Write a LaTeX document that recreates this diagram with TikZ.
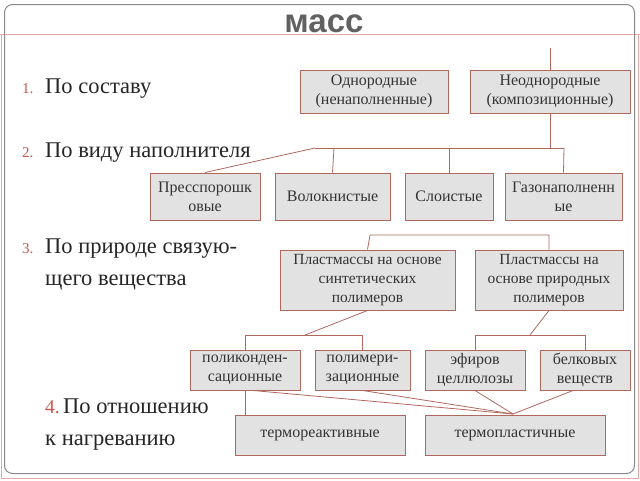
\documentclass[tikz,border=0pt]{standalone}
\usepackage{fontspec}
\setmainfont{Liberation Serif}
\newfontfamily\titlefont{Liberation Sans}
\usetikzlibrary{calc}
\definecolor{edge}{HTML}{B0685C}
\definecolor{boxfill}{HTML}{E2E2E2}
\definecolor{boxtext}{HTML}{333333}
\definecolor{numred}{HTML}{C8574C}
\definecolor{frame}{HTML}{8A8A8A}
\definecolor{pinkline}{HTML}{E3A9A9}
\definecolor{maintext}{HTML}{262626}
\begin{document}
\begin{tikzpicture}[x=1pt,y=-1pt,
  box/.style={draw=edge, line width=1pt, fill=boxfill, text=boxtext, align=center,
    inner sep=1pt, font=\fontsize{16}{19}\selectfont},
  link/.style={draw=edge, line width=0.8pt},
  lefttxt/.style={anchor=base west, inner sep=0pt, text=maintext, font=\fontsize{22.5}{27}\selectfont},
  num/.style={anchor=base west, inner sep=0pt, text=numred, font=\fontsize{15}{18}\selectfont}]
\useasboundingbox (0,0) rectangle (640,480);
\fill[white] (0,0) rectangle (640,480);
% frame
\draw[pinkline, line width=0.8pt] (0,34) -- (640,34);
\draw[pinkline, line width=0.8pt] (1.5,34) -- (1.5,478.5) -- (638.5,478.5) -- (638.5,34);
\draw[frame, line width=1pt, rounded corners=8pt] (4.5,4.5) rectangle (634.5,473.5);
% title
\node[anchor=base, inner sep=0pt, text=black!62, font=\titlefont\bfseries\fontsize{33}{36}\selectfont] (title) at (324,32) {масс};
% left list
\node[num] (n1) at (22,93) {1.};
\node[lefttxt] (t1) at (45,93) {По составу};
\node[num] (n2) at (22,157) {2.};
\node[lefttxt] (t2) at (45,157) {По виду наполнителя};
\node[num] (n3) at (22,253) {3.};
\node[lefttxt] (t3) at (45,253) {По природе связую-};
\node[lefttxt] (t3b) at (45,285) {щего вещества};
\node[num, font=\fontsize{19.5}{24}\selectfont] (n4) at (45,413) {4.};
\node[lefttxt] (t4) at (63,413) {По отношению};
\node[lefttxt] (t4b) at (45,445) {к нагреванию};
% row 1
\node[box, minimum width=148, minimum height=43] (odn) at (374,91.5) {Однородные\\(ненаполненные)};
\node[box, minimum width=160, minimum height=43] (neodn) at (550,91.5) {Неоднородные\\(композиционные)};
% row 2
\node[box, minimum width=110, minimum height=47] (press) at (205,196.5) {Пресспорошк\\овые};
\node[box, minimum width=115, minimum height=47] (volok) at (332.5,196.5) {Волокнистые};
\node[box, minimum width=88, minimum height=47] (slo) at (449,196.5) {Слоистые};
\node[box, minimum width=117, minimum height=47] (gaz) at (563.5,196.5) {Газонаполненн\\ые};
% row 3
\node[box, minimum width=175, minimum height=60, font=\fontsize{15.5}{19}\selectfont] (sint) at (367.5,280) {Пластмассы на основе\\синтетических\\полимеров};
\node[box, minimum width=148, minimum height=60, font=\fontsize{15.5}{19}\selectfont] (prir) at (549,280) {Пластмассы на\\основе природных\\полимеров};
% row 4
\node[box, minimum width=110, minimum height=40] (polik) at (245,370) {поликонден-\\сационные};
\node[box, minimum width=95, minimum height=40] (polim) at (362.5,370) {полимери-\\зационные};
\node[box, minimum width=100, minimum height=40] (efir) at (475,370) {эфиров\\целлюлозы};
\node[box, minimum width=90, minimum height=40] (belk) at (585,370) {белковых\\веществ};
% row 5
\node[box, minimum width=170, minimum height=40] (tr) at (320,435) {термореактивные};
\node[box, minimum width=180, minimum height=40] (tp) at (515,435) {термопластичные};
% connectors: top
\coordinate (top) at (550,48);
\draw[link] (top) -- (neodn.north);
\coordinate (j1) at (315,148);
\coordinate (j2) at (564,148);
\draw[link] (neodn.south) -- (neodn.south |- j1);
\draw[link] (j1) -- (j2);
\draw[link] (j1) -- (press.north);
\draw[link] (334,148) -- (volok.north);
\draw[link] (slo.north |- j1) -- (slo.north);
\draw[link] (j2) -- (gaz.north);
% row 3 bracket
\coordinate (k1) at (370,235);
\coordinate (k2) at (549,235);
\draw[link] (sint.north) -- (k1) -- (k2) -- (prir.north);
% row 4 brackets
\coordinate (m1) at (305,335);
\coordinate (p1) at (530,335);
\draw[link] (sint.south) -- (m1);
\draw[link] (polik.north) -- (polik.north |- m1) -- (polim.north |- m1) -- (polim.north);
\draw[link] (prir.south) -- (p1);
\draw[link] (efir.north) -- (efir.north |- p1) -- (belk.north |- p1) -- (belk.north);
% row 5 connectors
\coordinate (conv) at (513,414);
\draw[link] (polik.south) -- (polik.south |- tr.north);
\draw[link] ($(polik.south)+(8,0)$) -- (conv);
\draw[link] (polim.south) -- (conv);
\draw[link] (efir.south) -- (conv);
\draw[link] ($(belk.south)+(-12,0)$) -- (conv);
\end{tikzpicture}
\end{document}
